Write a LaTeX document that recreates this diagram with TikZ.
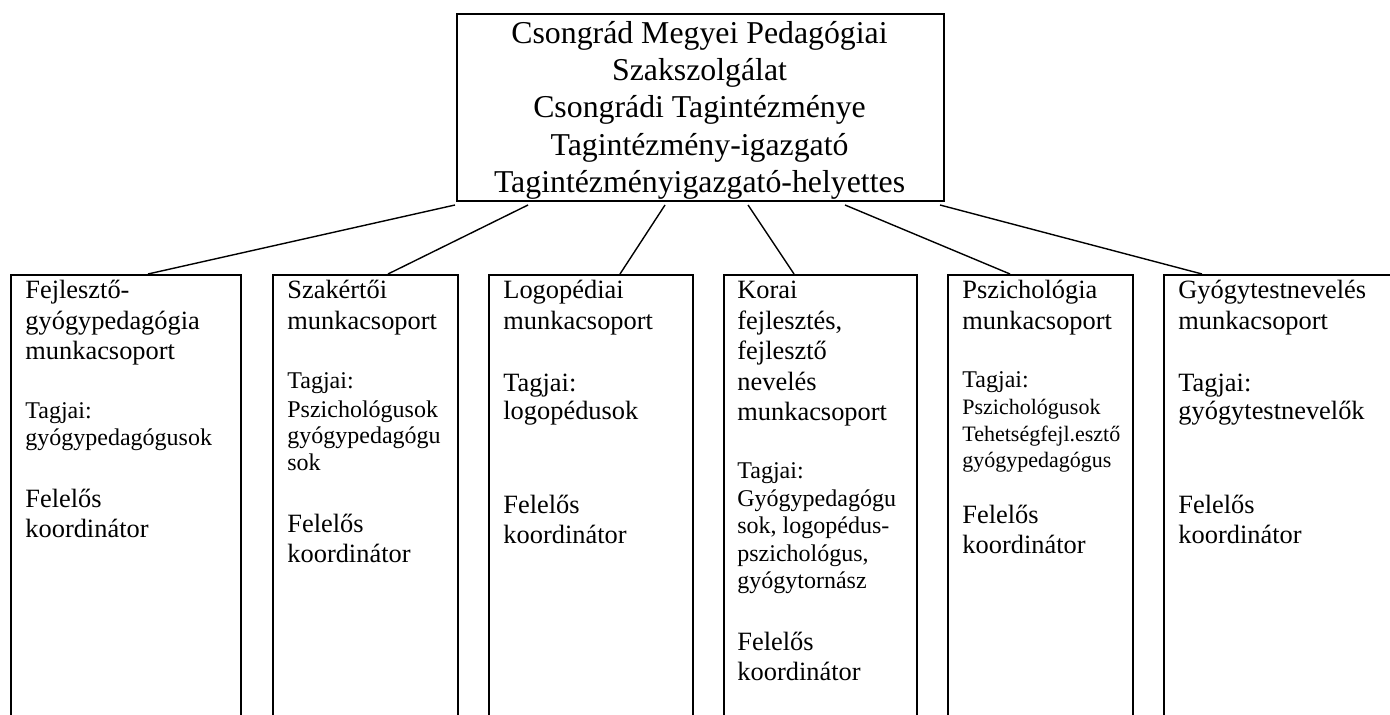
\documentclass[tikz,border=0pt]{standalone}
\usepackage{fontspec}
\setmainfont{Liberation Serif}
\newcommand{\headsize}{\fontsize{15.9}{18.7}\selectfont}
\newcommand{\grpsize}{\fontsize{13.2}{15}\selectfont}
\newcommand{\tagsize}{\fontsize{12}{14}\selectfont}
\newcommand{\tagsmall}{\fontsize{11}{13}\selectfont}

\begin{document}
\begin{tikzpicture}
  [x = .5pt, y = -.5pt,
   grpbox/.style = {draw, line width = 1pt, anchor = north west, inner sep = 0pt},
   ln/.style = {anchor = base west, inner sep = 0pt, font = \grpsize},
   lnsmall/.style = {ln, font = \tagsize},
   lntiny/.style = {ln, font = \tagsmall},
   link/.style = {line width = .7pt}]
  \useasboundingbox (0,0) rectangle (1390,715);
  \clip (0,0) rectangle (1390,715);
  % top box
  \node[grpbox, minimum width = 243.5pt, minimum height = 93.5pt] (head) at (456,13) {};
  \foreach \y/\t [count=\i] in {43.3/Csongrád Megyei Pedagógiai, 80.6/Szakszolgálat, 117.9/Csongrádi Tagintézménye, 155.2/Tagintézmény-igazgató, 192.5/Tagintézményigazgató-helyettes}{
    \node[anchor = base, inner sep = 0pt, font = \headsize] (head\i) at (699.5,\y) {\t};
  }
  % group boxes, open at the bottom
  \foreach \n/\l/\r in {1/10/240, 2/272/457, 3/488/692, 4/723/916, 5/947/1132, 6/1163/1430}{
    \node[grpbox, minimum width = {(\r-\l)*.5pt}, minimum height = 260pt] (g\n) at (\l,274) {};
  }
  \foreach \n/\a/\b in {1/-1/138, 2/72/116, 3/209/132, 4/292/71, 5/389/63, 6/484/39}{
    \draw[link] ([shift={(\a,3)}]head.south west) -- ([shift={(\b,0)}]g\n.north west);
  }
  % texts of the groups
  \foreach \y/\t [count=\i] in {299/Fejlesztő-, 329.5/gyógypedagógia, 360/munkacsoport, 507/Felelős, 537/koordinátor}
    \node[ln] (g1n\i) at (25,\y) {\t};
  \foreach \y/\t [count=\i] in {419/Tagjai:, 445/gyógypedagógusok}
    \node[lnsmall] (g1s\i) at (25,\y) {\t};
  \foreach \y/\t [count=\i] in {299/Szakértői, 329.5/munkacsoport, 532/Felelős, 562/koordinátor}
    \node[ln] (g2n\i) at (287,\y) {\t};
  \foreach \y/\t [count=\i] in {389/Tagjai:, 417/Pszichológusok, 444/gyógypedagógu, 470/sok}
    \node[lnsmall] (g2s\i) at (287,\y) {\t};
  \foreach \y/\t [count=\i] in {299/Logopédiai, 329.5/munkacsoport, 392/Tagjai:, 420/logopédusok, 513/Felelős, 543/koordinátor}
    \node[ln] (g3n\i) at (503,\y) {\t};
  \foreach \y/\t [count=\i] in {299/Korai, 329.5/{fejlesztés,}, 360/fejlesztő, 390.5/nevelés, 421/munkacsoport, 650/Felelős, 680/koordinátor}
    \node[ln] (g4n\i) at (737,\y) {\t};
  \foreach \y/\t [count=\i] in {479/Tagjai:, 506/Gyógypedagógu, 533/{sok, logopédus-}, 561/{pszichológus,}, 588/gyógytornász}
    \node[lnsmall] (g4s\i) at (737,\y) {\t};
  \foreach \y/\t [count=\i] in {299/Pszichológia, 329.5/munkacsoport, 523/Felelős, 553/koordinátor}
    \node[ln] (g5n\i) at (962,\y) {\t};
  \node[lnsmall] (g5s1) at (962,388) {Tagjai:};
  \foreach \y/\t [count=\i] in {415/Pszichológusok, 441.5/Tehetségfejl.esztő, 467/gyógypedagógus}
    \node[lntiny] (g5t\i) at (962,\y) {\t};
  \foreach \y/\t [count=\i] in {299/Gyógytestnevelés, 329.5/munkacsoport, 392/Tagjai:, 420/gyógytestnevelők, 513/Felelős, 543/koordinátor}
    \node[ln] (g6n\i) at (1178,\y) {\t};
\end{tikzpicture}
\end{document}
